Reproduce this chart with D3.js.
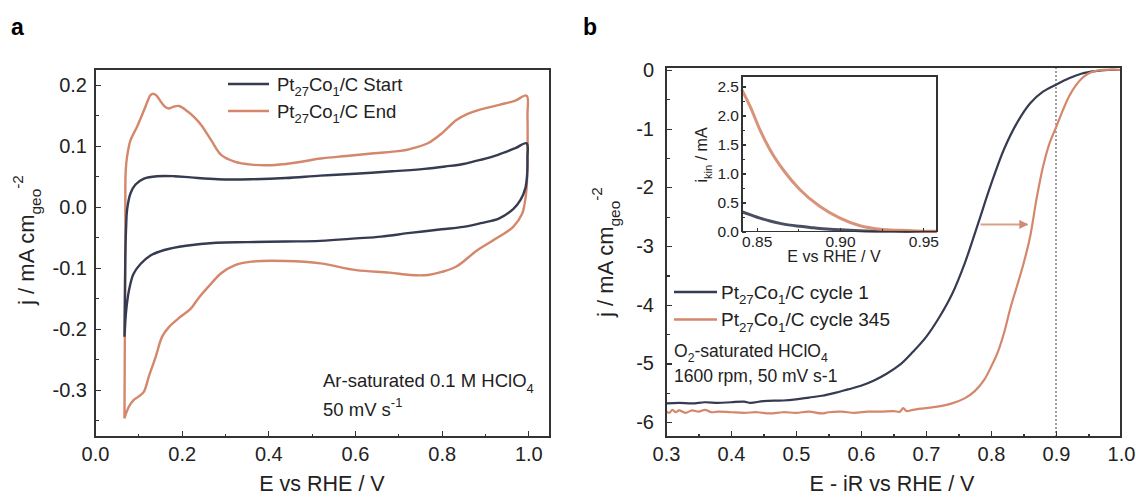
<!DOCTYPE html>
<html lang="en">
<head>
<meta charset="utf-8">
<title>CV and ORR polarisation curves</title>
<script src="https://cdn.jsdelivr.net/npm/d3@7"></script>
<style>
  body { margin: 0; background: #fff; }
  svg { font-family: "Liberation Sans", Arial, sans-serif; }
  .axis path, .axis line { stroke: #333; stroke-width: 1.2; shape-rendering: crispEdges; }
  .axis text { fill: #222; }
</style>
</head>
<body>
<script>
// ---------- data ----------
// panel a: cyclic voltammograms, [E (V vs RHE), j (mA cm-2)]
var cvStart = [
  [0.068,-0.213],[0.069,-0.15],[0.070,-0.08],[0.072,-0.03],[0.074,-0.005],[0.082,0.022],
  [0.093,0.036],[0.113,0.046],[0.144,0.050],[0.183,0.050],[0.221,0.048],[0.284,0.045],
  [0.36,0.045],[0.44,0.047],[0.52,0.051],[0.60,0.054],[0.686,0.058],[0.76,0.062],
  [0.809,0.066],[0.85,0.070],[0.891,0.077],[0.93,0.085],[0.97,0.096],[0.996,0.104],
  [0.998,0.08],[0.997,0.05],[0.993,0.03],[0.982,0.011],[0.965,-0.004],[0.933,-0.019],
  [0.89,-0.027],[0.85,-0.033],[0.80,-0.037],[0.727,-0.043],[0.66,-0.049],[0.603,-0.052],
  [0.52,-0.056],[0.44,-0.057],[0.35,-0.058],[0.28,-0.059],[0.21,-0.064],[0.16,-0.071],
  [0.128,-0.080],[0.105,-0.094],[0.089,-0.11],[0.079,-0.135],[0.072,-0.17],[0.068,-0.213]
];
var cvEnd = [
  [0.068,-0.347],[0.069,-0.2],[0.070,-0.05],[0.070,0.03],[0.071,0.06],[0.074,0.082],
  [0.082,0.109],[0.097,0.131],[0.113,0.158],[0.122,0.174],[0.128,0.183],[0.135,0.185],
  [0.142,0.182],[0.155,0.169],[0.163,0.163],[0.171,0.161],[0.182,0.164],[0.194,0.165],
  [0.214,0.156],[0.23,0.146],[0.245,0.134],[0.268,0.109],[0.291,0.085],[0.322,0.074],
  [0.361,0.069],[0.406,0.068],[0.46,0.072],[0.521,0.079],[0.58,0.083],[0.644,0.0875],
  [0.70,0.091],[0.727,0.0945],[0.768,0.104],[0.80,0.120],[0.834,0.142],[0.86,0.152],
  [0.883,0.158],[0.933,0.167],[0.97,0.174],[0.996,0.182],[0.998,0.15],[0.998,0.08],
  [0.996,0.03],[0.991,0.003],[0.986,-0.011],[0.965,-0.033],[0.933,-0.049],[0.883,-0.071],
  [0.834,-0.098],[0.80,-0.107],[0.768,-0.112],[0.727,-0.112],[0.68,-0.108],[0.603,-0.104],
  [0.521,-0.093],[0.44,-0.089],[0.361,-0.090],[0.322,-0.096],[0.291,-0.109],[0.268,-0.126],
  [0.241,-0.148],[0.221,-0.167],[0.198,-0.180],[0.171,-0.197],[0.155,-0.213],[0.14,-0.246],
  [0.124,-0.279],[0.113,-0.303],[0.101,-0.311],[0.089,-0.317],[0.078,-0.328],[0.068,-0.347]
];

// panel b: ORR polarisation curves, [E - iR (V vs RHE), j (mA cm-2)]
var lsvCycle1 = [
  [0.30,-5.68],[0.32,-5.67],[0.34,-5.68],[0.36,-5.66],[0.38,-5.67],[0.40,-5.66],[0.42,-5.65],
  [0.43,-5.67],[0.45,-5.64],[0.48,-5.63],[0.50,-5.61],[0.52,-5.58],[0.54,-5.55],[0.56,-5.50],
  [0.58,-5.44],[0.60,-5.38],[0.62,-5.29],[0.64,-5.17],[0.66,-5.02],[0.68,-4.80],[0.70,-4.55],
  [0.72,-4.22],[0.74,-3.82],[0.76,-3.28],[0.78,-2.62],[0.80,-1.95],[0.82,-1.35],[0.84,-0.90],
  [0.86,-0.57],[0.88,-0.37],[0.90,-0.25],[0.92,-0.14],[0.94,-0.06],[0.96,-0.02],[0.98,0.0],[1.0,0.0]
];
var lsvCycle345 = [
  [0.300,-5.81],[0.305,-5.84],[0.310,-5.79],[0.315,-5.83],[0.320,-5.80],[0.330,-5.84],[0.340,-5.80],
  [0.350,-5.82],[0.360,-5.79],[0.370,-5.83],[0.380,-5.82],[0.400,-5.83],[0.420,-5.84],[0.440,-5.83],
  [0.460,-5.85],[0.480,-5.83],[0.500,-5.84],[0.520,-5.82],[0.540,-5.85],[0.550,-5.83],[0.570,-5.82],
  [0.590,-5.84],[0.610,-5.82],[0.630,-5.82],[0.650,-5.81],[0.660,-5.82],[0.665,-5.76],[0.670,-5.81],
  [0.680,-5.79],[0.700,-5.76],[0.720,-5.73],[0.740,-5.68],[0.760,-5.59],[0.775,-5.47],[0.790,-5.27],
  [0.800,-5.06],[0.810,-4.82],[0.820,-4.48],[0.830,-4.05],[0.840,-3.68],[0.850,-3.30],[0.860,-2.85],
  [0.870,-2.20],[0.880,-1.65],[0.890,-1.25],[0.900,-0.98],[0.910,-0.70],[0.920,-0.45],[0.930,-0.27],
  [0.940,-0.14],[0.950,-0.06],[0.960,-0.02],[0.970,0.0],[0.985,0.005],[1.000,0.0]
];

// inset: kinetic current, [E (V vs RHE), i_kin (mA)]
var kinCycle1 = [
  [0.841,0.34],[0.846,0.29],[0.852,0.23],[0.858,0.18],[0.864,0.14],[0.870,0.11],[0.876,0.09],
  [0.882,0.07],[0.888,0.05],[0.894,0.04],[0.900,0.03],[0.912,0.015],[0.925,0.006],[0.94,0.002],[0.958,0.0]
];
var kinCycle345 = [
  [0.841,2.45],[0.846,2.16],[0.852,1.75],[0.858,1.41],[0.866,1.06],[0.876,0.72],[0.888,0.43],
  [0.900,0.23],[0.912,0.10],[0.924,0.04],[0.936,0.02],[0.946,0.01],[0.958,0.005]
];

// tick values
var aTicksX = [0, 0.2, 0.4, 0.6, 0.8, 1.0], aMinorX = [0.1, 0.3, 0.5, 0.7, 0.9];
var aTicksY = [-0.3, -0.2, -0.1, 0, 0.1, 0.2], aMinorY = [-0.35, -0.25, -0.15, -0.05, 0.05, 0.15];
var bTicksX = [0.3, 0.4, 0.5, 0.6, 0.7, 0.8, 0.9, 1.0], bMinorX = [0.35, 0.45, 0.55, 0.65, 0.75, 0.85, 0.95];
var bTicksY = [-6, -5, -4, -3, -2, -1, 0], bMinorY = [-5.5, -4.5, -3.5, -2.5, -1.5, -0.5];
var iTicksX = [0.85, 0.90, 0.95], iMinorX = [0.875, 0.925];
var iTicksY = [0, 0.5, 1.0, 1.5, 2.0, 2.5], iMinorY = [0.25, 0.75, 1.25, 1.75, 2.25];

// annotations
var refPotential = 0.9;           // dotted line
var arrowE = [0.784, 0.856], arrowJ = -2.63;

var navy = "#363b51", salmon = "#d4876b";

// ---------- drawing ----------
var w = 1136, h = 497;
var svg = d3.select("body").append("svg").attr("width", w).attr("height", h);

// text with sub/superscripts: parts = [[text, "sub"|"sup"|undefined], ...]
function rich(t, parts, fs) {
  var shift = 0;
  parts.forEach(function(p) {
    var target = p[1] === "sub" ? fs * 0.3 : p[1] === "sup" ? -fs * 0.5 : 0;
    var s = t.append("tspan").text(p[0]).attr("dy", target - shift);
    if (p[1]) s.attr("font-size", fs * 0.7);
    shift = target;
  });
}

// box with inward major/minor ticks
function frame(g, x, y, fs, pad, fmtX, fmtY, tx, mx, ty, my, big, small) {
  var r = x.range(), q = y.range();
  g.append("g").attr("class", "axis").attr("transform", "translate(0," + q[0] + ")")
    .call(d3.axisBottom(x).tickValues(mx).tickSize(-small).tickFormat(""));
  g.append("g").attr("class", "axis").attr("transform", "translate(" + r[0] + ",0)")
    .call(d3.axisLeft(y).tickValues(my).tickSize(-small).tickFormat(""));
  g.append("g").attr("class", "axis").attr("transform", "translate(0," + q[0] + ")")
    .call(d3.axisBottom(x).tickValues(tx).tickSize(-big).tickPadding(pad[0]).tickFormat(fmtX))
    .selectAll("text").attr("font-size", fs);
  g.append("g").attr("class", "axis").attr("transform", "translate(" + r[0] + ",0)")
    .call(d3.axisLeft(y).tickValues(ty).tickSize(-big).tickPadding(pad[1]).tickFormat(fmtY))
    .selectAll("text").attr("font-size", fs);
  g.selectAll(".axis path").remove();
  g.append("rect").attr("x", r[0]).attr("y", q[1]).attr("width", r[1] - r[0]).attr("height", q[0] - q[1])
    .attr("fill", "none").attr("stroke", "#333").attr("stroke-width", 1.2).attr("shape-rendering", "crispEdges");
}

var f1 = function(d) { return d.toFixed(1); };
var f2 = function(d) { return d.toFixed(2); };
var f0 = function(d) { return d.toFixed(0); };

// ----- panel a -----
var xA = d3.scaleLinear().domain([0, 1.05]).range([95, 550]);
var yA = d3.scaleLinear().domain([-0.3775, 0.2257]).range([437, 69]);
var gA = svg.append("g");
var lineA = d3.line().x(function(d) { return xA(d[0]); }).y(function(d) { return yA(d[1]); })
  .curve(d3.curveCatmullRom.alpha(0.5));

gA.append("path").datum(cvEnd).attr("d", lineA).attr("fill", "none").attr("stroke", salmon).attr("stroke-width", 2.4);
gA.append("path").datum(cvStart).attr("d", lineA).attr("fill", "none").attr("stroke", navy).attr("stroke-width", 2.4);
frame(gA, xA, yA, 20, [10, 8], f1, f1, aTicksX, aMinorX, aTicksY, aMinorY, 6, 3.5);

// legend a
[["Start", navy, 84], ["End", salmon, 111]].forEach(function(l) {
  gA.append("line").attr("x1", 228).attr("x2", 269).attr("y1", l[2]).attr("y2", l[2])
    .attr("stroke", l[1]).attr("stroke-width", 2.6);
  var t = gA.append("text").attr("x", 277).attr("y", l[2] + 6.5).attr("font-size", 18.5).attr("fill", "#222");
  rich(t, [["Pt"], ["27", "sub"], ["Co"], ["1", "sub"], ["/C " + l[0]]], 18.5);
});
var ta1 = gA.append("text").attr("x", 323).attr("y", 387).attr("font-size", 18.5).attr("fill", "#222");
rich(ta1, [["Ar-saturated 0.1 M HClO"], ["4", "sub"]], 18.5);
var ta2 = gA.append("text").attr("x", 323).attr("y", 416).attr("font-size", 18.5).attr("fill", "#222");
rich(ta2, [["50 mV s"], ["-1", "sup"]], 18.5);

gA.append("text").attr("x", 322).attr("y", 491).attr("text-anchor", "middle").attr("font-size", 21.5)
  .attr("fill", "#222").text("E vs RHE / V");
var yta = gA.append("text").attr("transform", "translate(34,240) rotate(-90)").attr("text-anchor", "middle")
  .attr("font-size", 22).attr("fill", "#222");
rich(yta, [["j / mA cm"], ["geo", "sub"], ["-2", "sup"]], 22);
svg.append("text").attr("x", 11).attr("y", 35).attr("font-size", 23).attr("font-weight", "bold").text("a");

// ----- panel b -----
var xB = d3.scaleLinear().domain([0.3, 1.0]).range([666, 1121]);
var yB = d3.scaleLinear().domain([-6.252, 0.051]).range([437, 67]);
var gB = svg.append("g");
var lineB = d3.line().x(function(d) { return xB(d[0]); }).y(function(d) { return yB(d[1]); })
  .curve(d3.curveCatmullRom);

gB.append("line").attr("x1", xB(refPotential)).attr("x2", xB(refPotential)).attr("y1", yB.range()[0]).attr("y2", yB.range()[1])
  .attr("stroke", "#777").attr("stroke-width", 1.4).attr("stroke-dasharray", "2,2");
gB.append("path").datum(lsvCycle1).attr("d", lineB).attr("fill", "none").attr("stroke", navy).attr("stroke-width", 2.2);
gB.append("path").datum(lsvCycle345).attr("d", lineB).attr("fill", "none").attr("stroke", salmon).attr("stroke-width", 2.2);
frame(gB, xB, yB, 20, [10, 12], f1, f0, bTicksX, bMinorX, bTicksY, bMinorY, 6, 3.5);

// arrow
svg.append("defs").append("marker").attr("id", "ah").attr("viewBox", "0 0 10 10").attr("refX", 9).attr("refY", 5)
  .attr("markerWidth", 4.5).attr("markerHeight", 4.5).attr("orient", "auto")
  .append("path").attr("d", "M0,0L10,5L0,10z").attr("fill", "#d28a74");
gB.append("line").attr("x1", xB(arrowE[0])).attr("x2", xB(arrowE[1])).attr("y1", yB(arrowJ)).attr("y2", yB(arrowJ))
  .attr("stroke", "#d9a08c").attr("stroke-width", 2).attr("marker-end", "url(#ah)");

// legend b
[["cycle 1", navy, 292], ["cycle 345", salmon, 319.5]].forEach(function(l) {
  gB.append("line").attr("x1", 674).attr("x2", 717).attr("y1", l[2]).attr("y2", l[2])
    .attr("stroke", l[1]).attr("stroke-width", 2.6);
  var t = gB.append("text").attr("x", 721).attr("y", l[2] + 6.5).attr("font-size", 19).attr("fill", "#222");
  rich(t, [["Pt"], ["27", "sub"], ["Co"], ["1", "sub"], ["/C " + l[0]]], 19);
});
var tb1 = gB.append("text").attr("x", 674).attr("y", 357).attr("font-size", 17.5).attr("fill", "#222");
rich(tb1, [["O"], ["2", "sub"], ["-saturated HClO"], ["4", "sub"]], 17.5);
gB.append("text").attr("x", 674).attr("y", 382).attr("font-size", 17.5).attr("fill", "#222").text("1600 rpm, 50 mV s-1");

gB.append("text").attr("x", 892).attr("y", 491).attr("text-anchor", "middle").attr("font-size", 21.5)
  .attr("fill", "#222").text("E - iR vs RHE / V");
var ytb = gB.append("text").attr("transform", "translate(613,252) rotate(-90)").attr("text-anchor", "middle")
  .attr("font-size", 22).attr("fill", "#222");
rich(ytb, [["j / mA cm"], ["geo", "sub"], ["-2", "sup"]], 22);
svg.append("text").attr("x", 583).attr("y", 35).attr("font-size", 23).attr("font-weight", "bold").text("b");

// ----- inset -----
var xI = d3.scaleLinear().domain([0.8412, 0.9582]).range([742, 937]);
var yI = d3.scaleLinear().domain([0, 2.68]).range([231.5, 76]);
var gI = svg.append("g");
gI.append("rect").attr("x", 742).attr("y", 76).attr("width", 195).attr("height", 155.5).attr("fill", "#fff");
var lineI = d3.line().x(function(d) { return xI(d[0]); }).y(function(d) { return yI(d[1]); }).curve(d3.curveMonotoneX);
gI.append("path").datum(kinCycle1).attr("d", lineI).attr("fill", "none").attr("stroke", navy).attr("stroke-width", 3).attr("opacity", 0.9);
gI.append("path").datum(kinCycle345).attr("d", lineI).attr("fill", "none").attr("stroke", salmon).attr("stroke-width", 3).attr("opacity", 0.9);
frame(gI, xI, yI, 15.5, [4, 3], f2, f1, iTicksX, iMinorX, iTicksY, iMinorY, 4, 2.5);
gI.append("text").attr("x", 834).attr("y", 262).attr("text-anchor", "middle").attr("font-size", 16)
  .attr("fill", "#222").text("E vs RHE / V");
var yti = gI.append("text").attr("transform", "translate(707,155) rotate(-90)").attr("text-anchor", "middle")
  .attr("font-size", 16).attr("fill", "#222");
rich(yti, [["i"], ["kin", "sub"], [" / mA"]], 16);
</script>
</body>
</html>
